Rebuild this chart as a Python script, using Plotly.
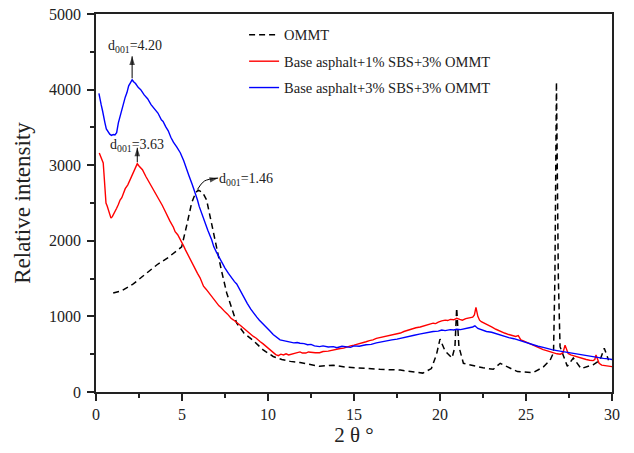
import plotly.graph_objects as go

# ---- data ----
ommt_x = [1.0, 1.5, 2.17, 2.8, 3.53, 4.2, 4.98, 5.27, 5.56, 5.8, 5.95, 6.2, 6.43, 6.7, 7.0, 7.3, 7.6, 7.9,
          8.18, 8.6, 9.15, 9.7, 10.3, 10.8, 11.3, 11.86, 12.5, 13.0, 13.8, 14.5, 15.2, 15.7, 16.5, 17.7,
          18.5, 19.0, 19.5, 19.8, 20.0, 20.3, 20.7, 20.87, 20.97, 21.1, 21.36, 21.55, 22.5, 23.1, 23.5,
          23.9, 24.5, 25.4, 26.0, 26.4, 26.6, 26.68, 26.77, 26.88, 26.98, 27.4, 27.75, 28.2, 28.9, 29.3,
          29.55, 29.8]
ommt_y = [1310, 1340, 1430, 1550, 1680, 1780, 1920, 2200, 2500, 2640, 2670, 2640, 2540, 2250, 1920, 1600,
          1310, 1100, 910, 780, 680, 560, 470, 430, 405, 390, 360, 340, 355, 330, 320, 310, 300, 290,
          270, 250, 310, 500, 700, 540, 450, 600, 1110, 600, 380, 370, 320, 300, 380,
          335, 270, 255, 330, 420, 520, 1500, 4100, 1500, 600, 340, 450, 310, 360, 420,
          580, 420]

red_x = [0.19, 0.28, 0.35, 0.42, 0.46, 0.5, 0.58, 0.65, 0.7, 0.8, 0.87, 0.95, 1.0, 1.1, 1.2, 1.3, 1.4, 1.5,
         1.55, 1.7, 1.85, 1.98, 2.1, 2.2, 2.3, 2.4, 2.5, 2.55, 2.7, 2.9, 3.0, 3.14, 3.3, 3.4, 3.6, 3.75,
         3.85, 4.0, 4.1, 4.3, 4.5, 4.6, 4.75, 4.9, 4.98, 5.1, 5.2, 5.35, 5.5, 5.6, 5.75, 5.9, 6.05, 6.15,
         6.25, 6.4, 6.5, 6.6, 6.75, 6.9, 7.02, 7.15, 7.25, 7.4, 7.5, 7.65, 7.75, 7.85, 7.98, 8.1, 8.25,
         8.4, 8.5, 8.65, 8.8, 9.0, 9.15, 9.3, 9.4, 9.55, 9.7, 9.85, 10.0, 10.15, 10.3, 10.45, 10.6, 10.75,
         10.9, 11.05, 11.2, 11.4, 11.6, 11.86, 12.0, 12.2, 12.35, 12.5, 12.75, 13.0, 13.2, 13.5, 13.75,
         14.0, 14.2, 14.4, 14.6, 14.8, 15.0, 15.2, 15.45, 15.7, 15.9, 16.1, 16.3, 16.5, 16.75, 17.0,
         17.25, 17.5, 17.7, 17.9, 18.1, 18.35, 18.6, 18.85, 19.1, 19.35, 19.6, 19.75, 19.9, 20.1, 20.3,
         20.45, 20.6, 20.8, 20.97, 21.15, 21.3, 21.5, 21.7, 21.9, 22.0, 22.09, 22.2, 22.3, 22.4, 22.55,
         22.7, 22.85, 23.0, 23.25, 23.5, 23.75, 24.0, 24.2, 24.4, 24.55, 24.7, 24.85, 25.0, 25.2, 25.4,
         25.55, 25.7, 25.85, 26.0, 26.15, 26.3, 26.45, 26.6, 26.8, 27.0, 27.15, 27.27, 27.35, 27.45,
         27.6, 27.8, 28.0, 28.25, 28.5, 28.7, 28.9, 29.0, 29.07, 29.15, 29.25, 29.4, 29.6, 29.8, 30.0]
red_y = [3160, 3100, 3080, 3030, 2900, 2750, 2500, 2460, 2420, 2350, 2300, 2320, 2340, 2390, 2430, 2480,
         2540, 2570, 2600, 2690, 2740, 2810, 2870, 2920, 2975, 3020, 2990, 2980, 2940, 2850, 2810, 2770,
         2700, 2660, 2580, 2510, 2470, 2400, 2350, 2260, 2180, 2120, 2080, 2020, 1990, 1930, 1880, 1810,
         1750, 1700, 1630, 1570, 1510, 1450, 1400, 1360, 1330, 1290, 1250, 1210, 1180, 1140, 1120, 1080,
         1060, 1030, 1000, 975, 955, 930, 900, 880, 860, 830, 800, 770, 735, 715, 690, 665, 640, 610, 580,
         550, 520, 495, 480, 500, 490, 505, 490, 505, 510, 530, 515, 515, 530, 525, 520, 520, 535, 540,
         555, 565, 575, 580, 600, 610, 620, 630, 650, 665, 680, 690, 710, 720, 735, 745, 765, 770, 780,
         800, 815, 830, 850, 860, 875, 895, 910, 905, 925, 940, 950, 945, 960, 955, 975, 960, 950, 970,
         975, 990, 1020, 1120, 1000, 950, 930, 915, 900, 880, 860, 830, 800, 780, 760, 750, 735, 745, 690,
         675, 660, 630, 610, 600, 590, 575, 560, 550, 540, 525, 515, 505, 500, 520, 620, 560, 510, 490,
         475, 460, 445, 430, 420, 415, 430, 490, 440, 380, 355, 350, 340, 335]

blue_x = [0.17, 0.25, 0.3, 0.38, 0.45, 0.52, 0.6, 0.7, 0.8, 0.9, 1.0, 1.1, 1.2, 1.3, 1.4, 1.5, 1.6, 1.7,
          1.8, 1.9, 2.0, 2.1, 2.2, 2.3, 2.45, 2.6, 2.8, 3.0, 3.2, 3.4, 3.6, 3.8, 3.9, 4.05, 4.2, 4.35,
          4.5, 4.7, 4.9, 5.1, 5.25, 5.4, 5.6, 5.76, 5.9, 6.0, 6.15, 6.3, 6.5, 6.73, 6.85, 7.0, 7.2, 7.35,
          7.5, 7.7, 7.9, 8.05, 8.18, 8.4, 8.6, 8.8, 9.0, 9.2, 9.35, 9.5, 9.7, 9.92, 10.1, 10.3, 10.5,
          10.7, 10.9, 11.1, 11.3, 11.5, 11.7, 11.86, 12.1, 12.3, 12.5, 12.7, 13.0, 13.2, 13.5, 13.8,
          14.0, 14.3, 14.5, 14.8, 15.0, 15.3, 15.7, 16.0, 16.3, 16.5, 16.8, 17.0, 17.2, 17.5, 17.7,
          18.0, 18.3, 18.5, 18.8, 19.0, 19.3, 19.6, 19.9, 20.1, 20.3, 20.6, 20.8, 20.97, 21.2, 21.5,
          21.7, 21.9, 22.03, 22.2, 22.4, 22.7, 23.0, 23.2, 23.5, 23.8, 24.0, 24.3, 24.5, 24.8, 25.0,
          25.2, 25.4, 25.7, 26.0, 26.3, 26.5, 26.8, 27.0, 27.2, 27.4, 27.7, 28.0, 28.3, 28.5, 28.8,
          29.0, 29.3, 29.5, 29.8, 30.0]
blue_y = [3950, 3880, 3800, 3720, 3610, 3560, 3480, 3440, 3410, 3395, 3405, 3400, 3430, 3560, 3650, 3760,
          3820, 3900, 3960, 4050, 4090, 4130, 4100, 4080, 4030, 4000, 3930, 3880, 3800, 3745, 3690, 3600,
          3580, 3510, 3455, 3370, 3305, 3240, 3165, 3060, 2950, 2865, 2740, 2640, 2540, 2455, 2360, 2250,
          2140, 2010, 1920, 1850, 1760, 1700, 1640, 1570, 1500, 1460, 1430, 1330, 1250, 1170, 1095, 1030,
          990, 950, 905, 860, 810, 760, 720, 690, 680, 665, 660, 650, 655, 645, 640, 625, 630, 610, 600,
          610, 595, 600, 585, 605, 598, 590, 610, 605, 625, 630, 650, 660, 670, 685, 690, 700, 712, 720,
          745, 750, 765, 775, 790, 800, 805, 820, 812, 825, 820, 830, 825, 845, 850, 860, 875, 840, 820,
          800, 790, 775, 755, 740, 720, 705, 690, 670, 650, 640, 620, 605, 590, 570, 560, 548, 540, 535,
          530, 515, 500, 490, 480, 470, 460, 452, 445, 438, 430]

series_names = ["OMMT", "Base asphalt+1% SBS+3% OMMT", "Base asphalt+3% SBS+3% OMMT"]

x_ticks = [0, 5, 10, 15, 20, 25, 30]
y_ticks = [0, 1000, 2000, 3000, 4000, 5000]

# peak annotations: arrow paths (from peak to tip) and labels
ann_labels = ["d<sub>001</sub>=4.20", "d<sub>001</sub>=3.63", "d<sub>001</sub>=1.46"]
arrow_x = [[2.1, 2.1], [2.4, 2.4], [5.9, 6.3, 7.1]]
arrow_y = [[4150, 4440], [3040, 3230], [2680, 2790, 2830]]
ann_text_x = [2.27, 2.38, 7.05]
ann_text_y = [4570, 3260, 2810]
ann_text_anchor = ["center", "center", "left"]

FONT = "Liberation Serif"

fig = go.Figure()
fig.add_trace(go.Scatter(x=ommt_x, y=ommt_y, mode="lines", name=series_names[0], legendgroup="a",
                         line=dict(color="black", width=1.5, dash="6px,4px")))
fig.add_trace(go.Scatter(x=red_x, y=red_y, mode="lines", name=series_names[1], legendgroup="b",
                         line=dict(color="#ff0000", width=1.4)))
fig.add_trace(go.Scatter(x=blue_x, y=blue_y, mode="lines", name=series_names[2], legendgroup="c",
                         line=dict(color="#0000ff", width=1.4)))

for i in range(3):
    n = len(arrow_x[i])
    fig.add_trace(go.Scatter(x=arrow_x[i], y=arrow_y[i],
                             mode="lines+markers", showlegend=False, hoverinfo="skip",
                             line=dict(color="black", width=1, shape="spline"),
                             marker=dict(symbol="arrow", size=[0] * (n - 1) + [9], angleref="previous",
                                         color="black", line=dict(width=0))))
    fig.add_annotation(x=ann_text_x[i], y=ann_text_y[i], xref="x", yref="y", text=ann_labels[i],
                       showarrow=False, xanchor=ann_text_anchor[i], yanchor="middle",
                       font=dict(family=FONT, size=14, color="#222"))

axis_common = dict(showline=True, linecolor="#222", linewidth=1.5, mirror=True, ticks="outside",
                   ticklen=7, tickwidth=1.5, tickcolor="#222", showgrid=False, zeroline=False,
                   automargin=False, tickfont=dict(family=FONT, size=16, color="#222"))

fig.update_xaxes(range=[0, 30], tickvals=x_ticks,
                 minor=dict(dtick=2.5, ticklen=4, ticks="outside", tickcolor="#222", tickwidth=1.5),
                 title=dict(text="2 θ °", font=dict(family=FONT, size=21, color="#222"), standoff=5),
                 **axis_common)
fig.update_yaxes(range=[0, 5000], tickvals=y_ticks,
                 minor=dict(dtick=500, ticklen=4, ticks="outside", tickcolor="#222", tickwidth=1.5),
                 title=dict(text="Relative intensity", font=dict(family=FONT, size=23, color="#222"),
                            standoff=12),
                 ticklabelstandoff=3,
                 **axis_common)

fig.update_layout(
    width=634, height=453,
    margin=dict(l=96, r=22, t=14, b=61, autoexpand=False),
    paper_bgcolor="white", plot_bgcolor="white",
    legend=dict(x=0.287, y=0.987, xanchor="left", yanchor="top", bgcolor="rgba(0,0,0,0)",
                font=dict(family=FONT, size=14.5, color="#222"), tracegroupgap=4.5),
    showlegend=True,
)

fig.write_html("out.html", config={"displayModeBar": False},
               post_script="document.body.style.margin='0';document.body.style.padding='0';")
